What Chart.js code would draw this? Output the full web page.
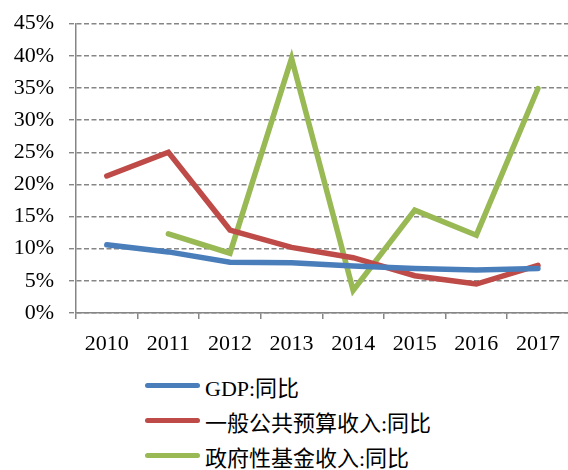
<!DOCTYPE html>
<html>
<head>
<meta charset="utf-8">
<script src="https://cdn.jsdelivr.net/npm/chart.js@4/dist/chart.umd.min.js"></script>
<style>
  html, body { margin: 0; padding: 0; background: #fff; overflow: hidden; }
  #wrap { position: relative; width: 568px; height: 470px; overflow: hidden; }
  #box { position: absolute; left: 0; top: 0; width: 572px; height: 362px; }
  #legend { position: absolute; left: 145px; top: 368px; font-family: "Liberation Serif", "Noto Sans CJK SC", serif; font-size: 22px; color: #000; }
  .row { height: 35px; display: flex; align-items: center; }
  .swatch { display: inline-block; width: 55px; height: 5px; border-radius: 3px; margin-right: 5px; }
</style>
</head>
<body>
<div id="wrap">
  <div id="box"><canvas id="c"></canvas></div>
  <div id="legend"></div>
</div>
<script>
// chart data
const years = ["2010", "2011", "2012", "2013", "2014", "2015", "2016", "2017"];
const gdp = [10.6, 9.5, 7.9, 7.8, 7.3, 6.9, 6.7, 6.9];
const budget = [21.3, 25.0, 12.9, 10.2, 8.6, 5.8, 4.5, 7.4];
const fund = [null, 12.3, 9.3, 39.6, 3.5, 16.0, 12.1, 34.9];
const yTicks = [0, 5, 10, 15, 20, 25, 30, 35, 40, 45];

const serif = "Liberation Serif";
const gridGray = "#868686";

const line = (label, data, color) => ({
  label, data,
  borderColor: color,
  backgroundColor: color,
  borderWidth: 5.5,
  borderCapStyle: "round",
  pointRadius: 0,
  pointHoverRadius: 0,
  tension: 0,
  fill: false,
  spanGaps: false
});

const chart = new Chart(document.getElementById("c"), {
  type: "line",
  data: {
    labels: years,
    datasets: [
      line("GDP:同比", gdp, "#4a7ebb"),
      line("一般公共预算收入:同比", budget, "#be4b48"),
      line("政府性基金收入:同比", fund, "#98b954")
    ]
  },
  options: {
    responsive: true,
    maintainAspectRatio: false,
    animation: false,
    layout: { padding: { top: 10, right: 1, left: 0, bottom: 0 } },
    plugins: { legend: { display: false }, tooltip: { enabled: false } },
    scales: {
      x: {
        offset: true,
        grid: { display: true, drawOnChartArea: false, drawTicks: true, offset: true, tickLength: 6, color: gridGray, lineWidth: 1.5 },
        border: { display: true, color: gridGray, width: 1.5 },
        ticks: { font: { family: serif, size: 22 }, color: "#000", padding: 12, maxRotation: 0 },
        afterFit: s => { s.height = 49; }
      },
      y: {
        min: 0, max: 45,
        afterBuildTicks: s => { s.ticks = yTicks.map(v => ({ value: v })); },
        grid: { color: gridGray, lineWidth: 1.4, tickLength: 7, tickBorderDash: [5, 2.5] },
        border: { display: true, color: gridGray, width: 1.5, dash: [5, 2.5] },
        // small lineHeight keeps the top padding near the reference
        ticks: { font: { family: serif, size: 22, lineHeight: 0.78 }, color: "#000", padding: 15, callback: v => v + "%" },
        afterFit: s => { s.width = 76; }
      }
    }
  }
});

// html legend
const lg = document.getElementById("legend");
chart.data.datasets.forEach(ds => {
  const row = document.createElement("div");
  row.className = "row";
  row.innerHTML = `<span class="swatch" style="background:${ds.borderColor}"></span><span>${ds.label}</span>`;
  lg.appendChild(row);
});
</script>
</body>
</html>
